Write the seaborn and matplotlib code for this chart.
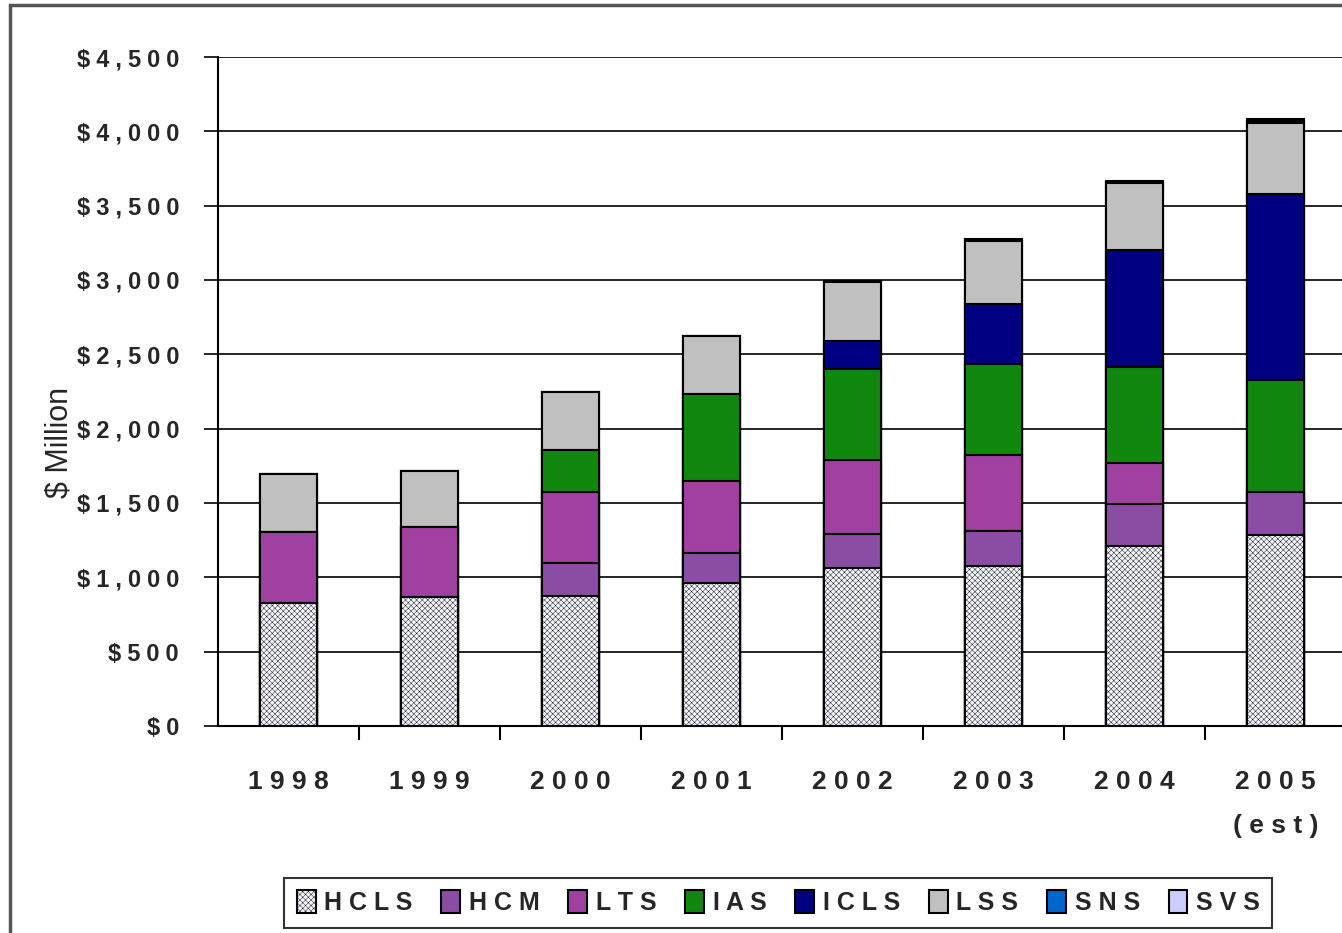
import matplotlib
matplotlib.use("Agg")
import matplotlib.pyplot as plt
from matplotlib.patches import Patch, Rectangle
from matplotlib.ticker import FixedLocator
import numpy as np
import pandas as pd
import seaborn as sns

H = "\u200a"  # hair space used for the letter-spaced look
years = ["1998", "1999", "2000", "2001", "2002", "2003", "2004", "2005"]
year_labels = ["1998", "1999", "2000", "2001", "2002", "2003", "2004", "2005\n(est)"]
HCLS = [827, 868, 874, 964, 1063, 1076, 1211, 1285]
HCM = [0, 0, 222, 198, 228, 236, 282, 289]
LTS = [478, 470, 478, 486, 498, 511, 278, 0]
IAS = [0, 0, 282, 585, 612, 612, 644, 753]
ICLS = [0, 0, 0, 0, 189, 403, 787, 1251]
LSS = [390, 377, 390, 390, 396, 424, 450, 478]
SNS = [0, 0, 0, 0, 4, 7, 7, 12]
SVS = [0, 0, 0, 0, 3, 7, 7, 12]
series_names = ["HCLS", "HCM", "LTS", "IAS", "ICLS", "LSS", "SNS", "SVS"]
y_ticks = [0, 500, 1000, 1500, 2000, 2500, 3000, 3500, 4000, 4500]
y_tick_labels = ["$0", "$500", "$1,000", "$1,500", "$2,000", "$2,500",
                 "$3,000", "$3,500", "$4,000", "$4,500"]


def spaced(s, sep=H + H):
    lines = s.split("\n")
    return "\n".join(sep.join(list(l)) for l in lines)


colors = {"HCLS": "#f6f6ff", "HCM": "#8b4ca3", "LTS": "#a040a0", "IAS": "#108810",
          "ICLS": "#000080", "LSS": "#c0c0c0", "SNS": "#0066cc", "SVS": "#ccccff"}

sns.set_style("white")
plt.rcParams["font.family"] = ["Liberation Sans", "DejaVu Sans"]
plt.rcParams["hatch.color"] = "#7c7cff"
plt.rcParams["hatch.linewidth"] = 0.3

data = {"HCLS": HCLS, "HCM": HCM, "LTS": LTS, "IAS": IAS, "ICLS": ICLS,
        "LSS": LSS, "SNS": SNS, "SVS": SVS}
df = pd.DataFrame(data)
cum = df[series_names].cumsum(axis=1)
cum["year"] = years

fig = plt.figure(figsize=(13.42, 9.33), dpi=100)
ax = fig.add_axes([0.1624, 0.2219, 0.8376 + 0.003, 0.717])

for name in reversed(series_names):
    kw = {}
    if name == "HCLS":
        kw["hatch"] = "xxxxxx"
    sns.barplot(data=cum, x="year", y=name, order=years, color=colors[name],
                saturation=1, width=0.405, edgecolor="black", linewidth=1.5,
                ax=ax, zorder=3, **kw)

ax.set_xlim(-0.5, 7.5)
ax.set_ylim(0, 4500)
ax.set_yticks(y_ticks)
ax.set_yticklabels([spaced(t, H + H + H) for t in y_tick_labels], fontsize=17, fontweight="bold")
ax.set_xticks(range(8))
ax.set_xticklabels([spaced(t, " ") for t in year_labels], fontsize=19, fontweight="bold",
                   linespacing=2.05)
ax.xaxis.set_minor_locator(FixedLocator([0.5 + i for i in range(7)]))
ax.tick_params(axis="x", which="major", length=0, pad=32)
ax.tick_params(axis="x", which="minor", length=10, width=1.5, color="black", direction="out", bottom=True)
ax.tick_params(axis="y", which="major", length=10, width=1.2, color="black", direction="out", left=True, pad=18)
ax.yaxis.grid(True, color="black", linewidth=1.2)
ax.set_axisbelow(True)
for s in ["top", "right"]:
    ax.spines[s].set_visible(False)
ax.spines["left"].set_color("black")
ax.spines["left"].set_linewidth(1.5)
ax.spines["bottom"].set_color("black")
ax.spines["bottom"].set_linewidth(1.5)
ax.set_xlabel("")
ax.set_ylabel("")
fig.text(59 / 1342, 0.526, "$ Million", rotation=90, fontsize=22, ha="center", va="center")

handles = []
for name in series_names:
    h = Patch(facecolor=colors[name], edgecolor="black", linewidth=1.5,
              hatch="xxxxxx" if name == "HCLS" else None, label=spaced(name, " "))
    handles.append(h)
leg = fig.legend(handles=handles, loc="center", bbox_to_anchor=(0.58, 0.0325), ncol=8,
                 frameon=True, fancybox=False, edgecolor="black", handlelength=0.75,
                 handleheight=1.0, handletextpad=0.35, columnspacing=1.15,
                 prop={"weight": "bold", "size": 18}, borderpad=0.5)
leg.get_frame().set_linewidth(1.5)

fig.patches.append(Rectangle((10 / 1342, -0.1), 2.0, 1.1 - 5 / 933, transform=fig.transFigure,
                             fill=False, edgecolor="#555555", linewidth=2.5, figure=fig))

fig.savefig("out.png", dpi=100)
